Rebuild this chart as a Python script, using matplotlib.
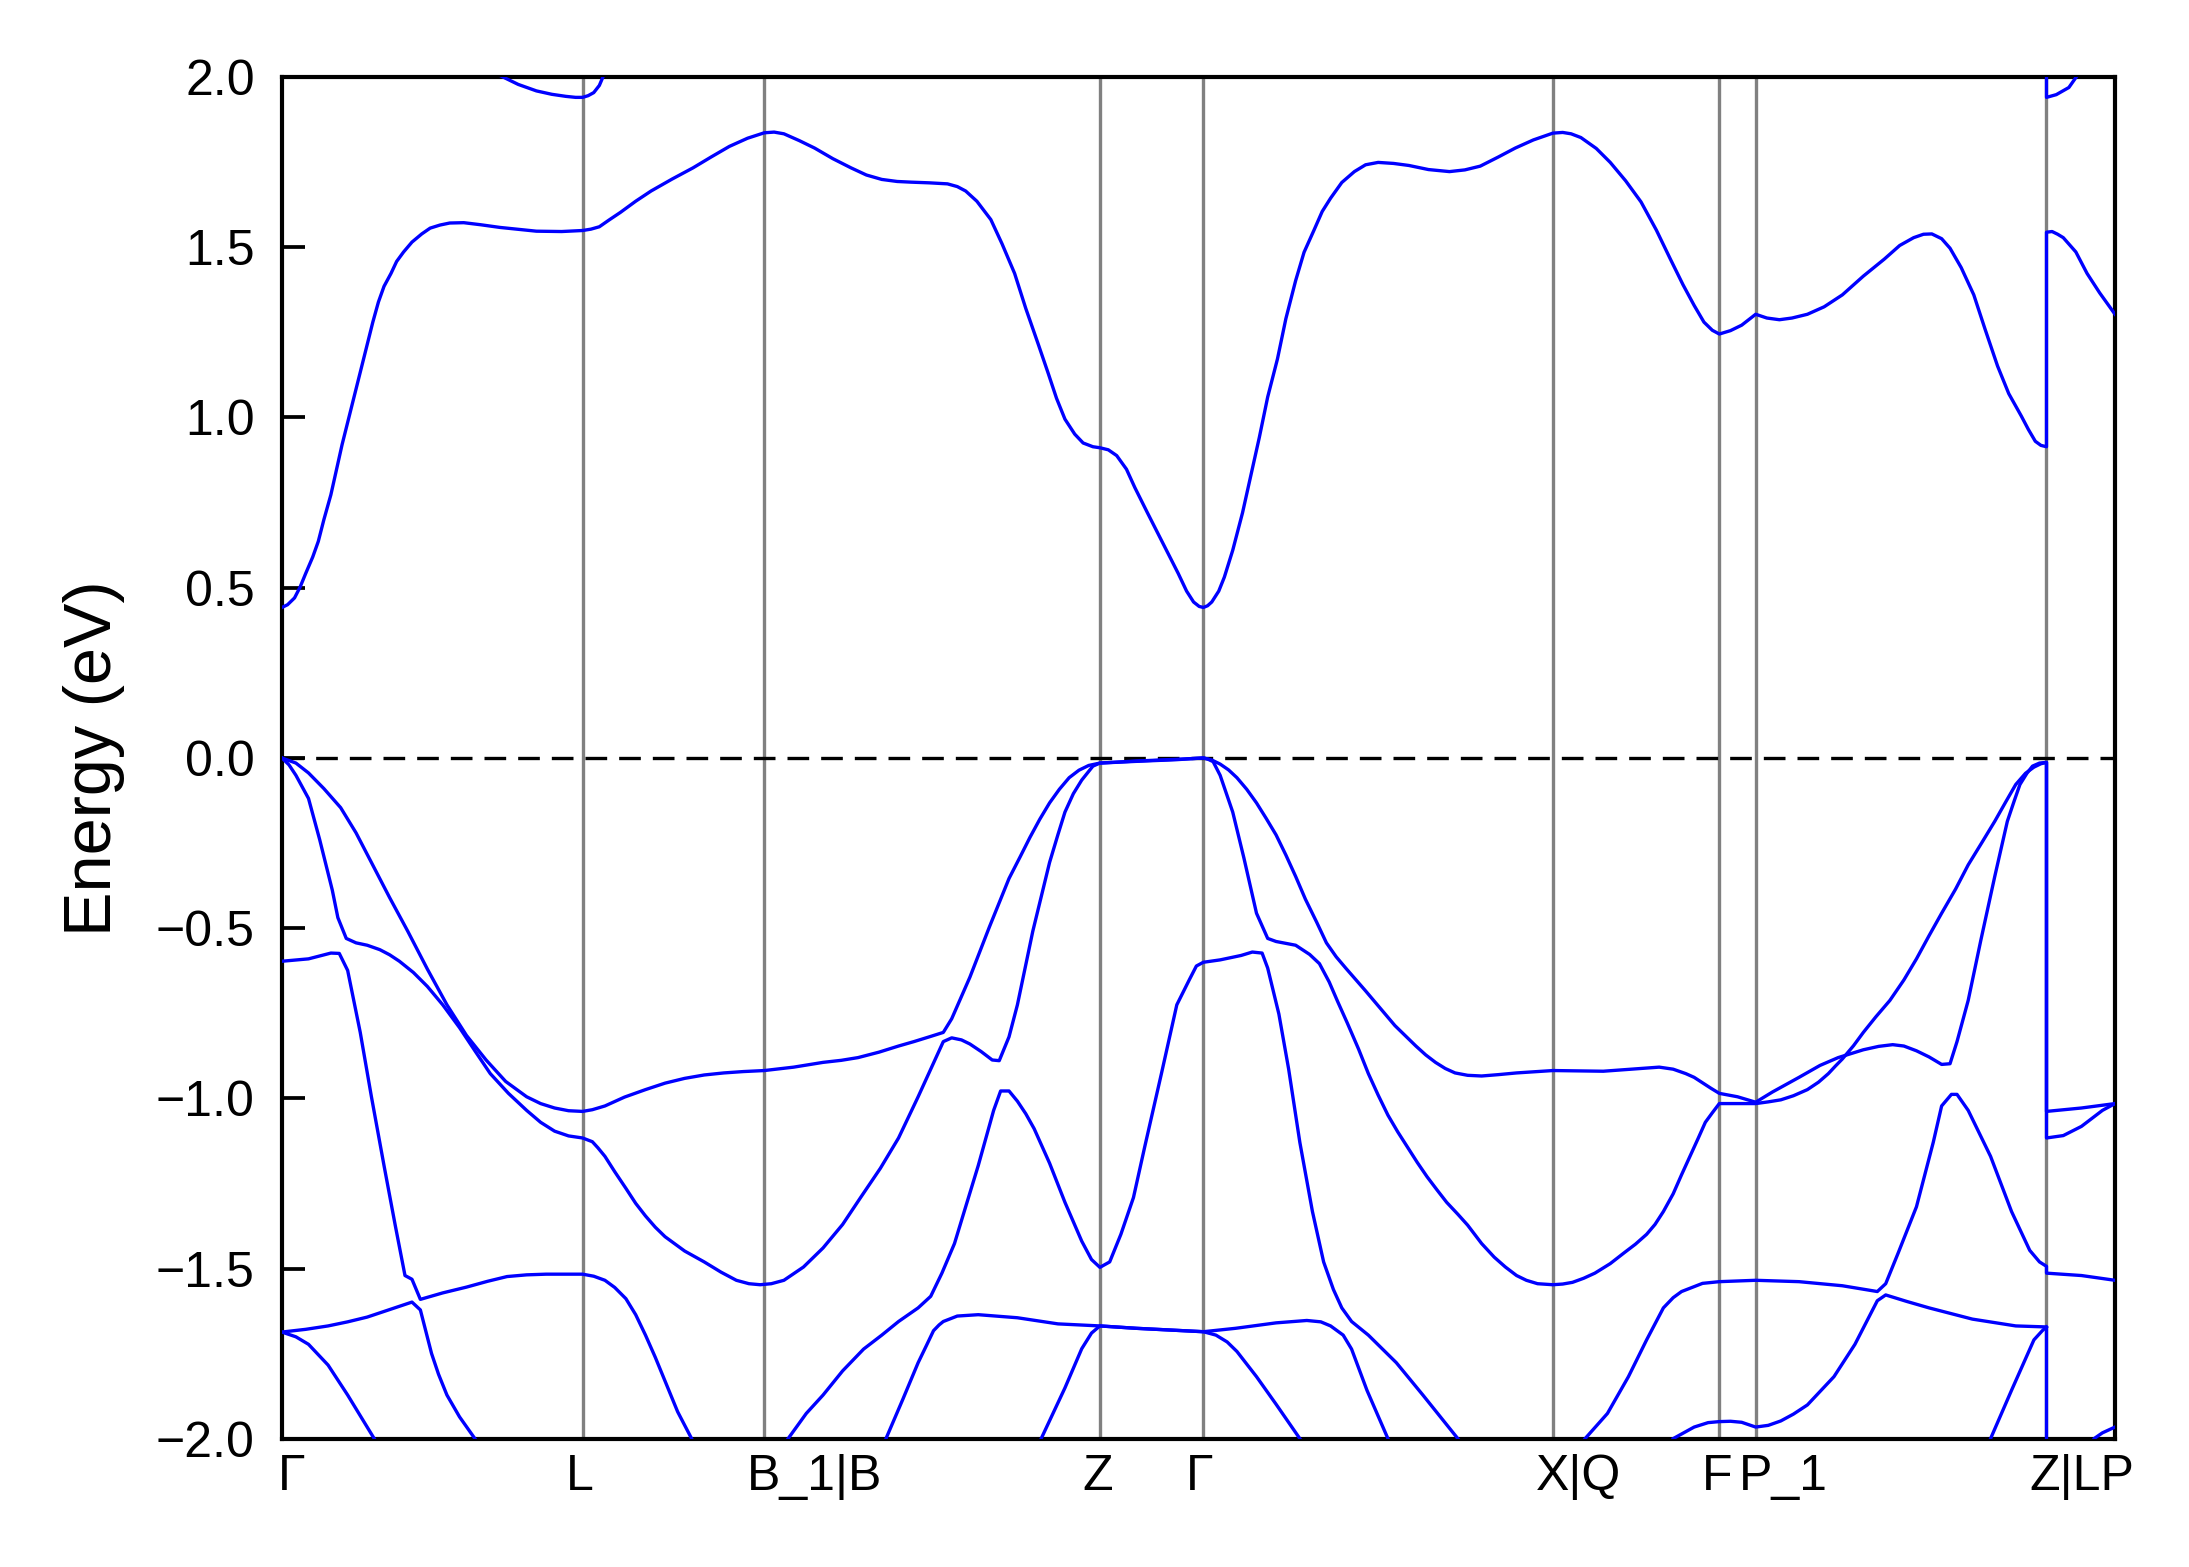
import matplotlib
matplotlib.use("Agg")
import matplotlib.pyplot as plt
import matplotlib.transforms as mtransforms
import numpy as np

plt.rcParams['font.family'] = ['Liberation Sans', 'DejaVu Sans']

# high symmetry points along the path (k distance)
kpoints = [0.0, 2.15, 3.45, 5.85, 6.59, 9.09, 10.28, 10.54, 12.62, 13.11]
klabels = ['Γ', 'L', 'B_1|B', 'Z', 'Γ', 'X|Q', 'F', 'P_1', 'Z|LP', '']

# bands: (k, E in eV)
cb1 = [(0.00, 0.442), (0.04, 0.450), (0.09, 0.470), (0.13, 0.502), (0.17, 0.542), (0.22, 0.590),
       (0.26, 0.636), (0.30, 0.700), (0.35, 0.773), (0.43, 0.920), (0.52, 1.067), (0.61, 1.214),
       (0.65, 1.280), (0.69, 1.339), (0.73, 1.385), (0.78, 1.423), (0.82, 1.458), (0.87, 1.486),
       (0.93, 1.515), (1.00, 1.539), (1.06, 1.556), (1.13, 1.565), (1.20, 1.571), (1.30, 1.572),
       (1.42, 1.566), (1.56, 1.558), (1.70, 1.552), (1.82, 1.547), (2.00, 1.546), (2.15, 1.549),
       (2.21, 1.553), (2.27, 1.560), (2.34, 1.580), (2.42, 1.602), (2.53, 1.635), (2.64, 1.665),
       (2.79, 1.700), (2.94, 1.733), (3.07, 1.765), (3.20, 1.796), (3.33, 1.820), (3.45, 1.836),
       (3.52, 1.838), (3.59, 1.833), (3.70, 1.813), (3.81, 1.791), (3.94, 1.760), (4.07, 1.733),
       (4.18, 1.712), (4.29, 1.699), (4.40, 1.693), (4.50, 1.691), (4.63, 1.689), (4.76, 1.686),
       (4.83, 1.678), (4.89, 1.665), (4.97, 1.635), (5.07, 1.581), (5.15, 1.510), (5.24, 1.423),
       (5.32, 1.320), (5.41, 1.214), (5.48, 1.130), (5.54, 1.056), (5.60, 0.995), (5.67, 0.951),
       (5.73, 0.925), (5.80, 0.914), (5.85, 0.911), (5.91, 0.905), (5.97, 0.888), (6.04, 0.848),
       (6.10, 0.794), (6.19, 0.720), (6.28, 0.647), (6.35, 0.590), (6.41, 0.542), (6.47, 0.490),
       (6.52, 0.458), (6.56, 0.445), (6.59, 0.442), (6.62, 0.447), (6.65, 0.458), (6.70, 0.490),
       (6.74, 0.531), (6.80, 0.610), (6.87, 0.720), (6.93, 0.830), (6.99, 0.941), (7.05, 1.060),
       (7.12, 1.172), (7.18, 1.290), (7.25, 1.402), (7.31, 1.485), (7.38, 1.549), (7.44, 1.605),
       (7.50, 1.644), (7.58, 1.690), (7.67, 1.722), (7.75, 1.742), (7.84, 1.749), (7.95, 1.746),
       (8.06, 1.740), (8.20, 1.728), (8.35, 1.722), (8.46, 1.727), (8.57, 1.738), (8.70, 1.765),
       (8.82, 1.791), (8.95, 1.815), (9.09, 1.835), (9.16, 1.837), (9.22, 1.833), (9.29, 1.822),
       (9.40, 1.790), (9.50, 1.749), (9.61, 1.695), (9.72, 1.633), (9.83, 1.550), (9.93, 1.465),
       (10.02, 1.390), (10.10, 1.329), (10.17, 1.280), (10.23, 1.256), (10.28, 1.245), (10.36, 1.255),
       (10.44, 1.271), (10.54, 1.303), (10.62, 1.292), (10.71, 1.287), (10.80, 1.292), (10.91, 1.303),
       (11.03, 1.325), (11.16, 1.360), (11.31, 1.415), (11.46, 1.465), (11.57, 1.505), (11.67, 1.528),
       (11.74, 1.538), (11.80, 1.539), (11.87, 1.525), (11.93, 1.497), (12.01, 1.440), (12.10, 1.360),
       (12.18, 1.260), (12.27, 1.151), (12.35, 1.070), (12.44, 1.004), (12.49, 0.965), (12.54, 0.930),
       (12.58, 0.918), (12.62, 0.914), (12.62, 1.544), (12.66, 1.546), (12.70, 1.538), (12.74, 1.528),
       (12.83, 1.486), (12.91, 1.423), (13.00, 1.366), (13.11, 1.303)]

cb2_left = [(1.40, 2.030), (1.48, 2.018), (1.56, 2.004), (1.69, 1.978), (1.82, 1.959), (1.93, 1.949),
            (2.03, 1.943), (2.10, 1.940), (2.15, 1.940), (2.19, 1.945), (2.23, 1.954), (2.27, 1.975),
            (2.30, 2.004), (2.36, 2.050)]
cb2_right = [(12.62, 2.100), (12.62, 1.940), (12.69, 1.948), (12.78, 1.969), (12.84, 2.004), (12.90, 2.050)]

vb1 = [(0.00, 0.000), (0.10, -0.015), (0.19, -0.044), (0.30, -0.090), (0.42, -0.146), (0.53, -0.220),
       (0.64, -0.307), (0.77, -0.410), (0.90, -0.509), (1.04, -0.620), (1.18, -0.725), (1.32, -0.815),
       (1.46, -0.887), (1.60, -0.950), (1.75, -0.995), (1.85, -1.015), (1.95, -1.028), (2.05, -1.036),
       (2.15, -1.038), (2.22, -1.033), (2.31, -1.022), (2.45, -0.996), (2.60, -0.974), (2.74, -0.955),
       (2.88, -0.941), (3.02, -0.931), (3.16, -0.925), (3.30, -0.921), (3.45, -0.918), (3.66, -0.908),
       (3.87, -0.894), (4.00, -0.888), (4.12, -0.880), (4.27, -0.864), (4.41, -0.846), (4.52, -0.833),
       (4.63, -0.819), (4.73, -0.806), (4.79, -0.766), (4.92, -0.644), (5.06, -0.496), (5.20, -0.354),
       (5.28, -0.290), (5.35, -0.233), (5.42, -0.180), (5.49, -0.132), (5.56, -0.092), (5.63, -0.058),
       (5.70, -0.036), (5.77, -0.022), (5.85, -0.015), (6.11, -0.009), (6.40, -0.004), (6.59, 0.000),
       (6.65, -0.006), (6.71, -0.018), (6.77, -0.035), (6.83, -0.058), (6.90, -0.092), (6.97, -0.132),
       (7.04, -0.178), (7.11, -0.226), (7.18, -0.285), (7.25, -0.348), (7.32, -0.415), (7.40, -0.482),
       (7.47, -0.543), (7.54, -0.584), (7.61, -0.618), (7.68, -0.651), (7.75, -0.684), (7.82, -0.718),
       (7.89, -0.752), (7.96, -0.786), (8.04, -0.818), (8.11, -0.846), (8.18, -0.872), (8.25, -0.894),
       (8.32, -0.912), (8.39, -0.925), (8.48, -0.932), (8.58, -0.934), (8.70, -0.930), (8.83, -0.925),
       (9.09, -0.918), (9.45, -0.920), (9.65, -0.914), (9.85, -0.908), (9.95, -0.914), (10.04, -0.927),
       (10.10, -0.938), (10.16, -0.954), (10.22, -0.970), (10.28, -0.985), (10.41, -0.995), (10.54, -1.011),
       (10.66, -0.981), (10.85, -0.938), (11.00, -0.903), (11.13, -0.880), (11.31, -0.857), (11.42, -0.847),
       (11.52, -0.842), (11.60, -0.846), (11.69, -0.860), (11.78, -0.878), (11.87, -0.900), (11.93, -0.898),
       (11.98, -0.833), (12.06, -0.712), (12.15, -0.536), (12.25, -0.348), (12.34, -0.186), (12.39, -0.125),
       (12.43, -0.078), (12.48, -0.045), (12.52, -0.024), (12.57, -0.015), (12.62, -0.013),
       (12.62, -1.038), (12.87, -1.028), (13.11, -1.015)]

vb2 = [(0.00, 0.000), (0.05, -0.020), (0.10, -0.051), (0.19, -0.119), (0.27, -0.240), (0.36, -0.388),
       (0.40, -0.469), (0.46, -0.530), (0.53, -0.543), (0.61, -0.550), (0.70, -0.563), (0.77, -0.578),
       (0.84, -0.597), (0.94, -0.630), (1.04, -0.671), (1.15, -0.725), (1.27, -0.792), (1.38, -0.860),
       (1.49, -0.927), (1.62, -0.985), (1.75, -1.035), (1.85, -1.070), (1.95, -1.096), (2.05, -1.110),
       (2.15, -1.116), (2.22, -1.127), (2.26, -1.145), (2.31, -1.170), (2.38, -1.215), (2.46, -1.264),
       (2.53, -1.308), (2.60, -1.345), (2.67, -1.378), (2.74, -1.406), (2.88, -1.448), (3.02, -1.480),
       (3.14, -1.510), (3.25, -1.534), (3.34, -1.544), (3.42, -1.547), (3.50, -1.544), (3.59, -1.534),
       (3.73, -1.495), (3.87, -1.439), (4.01, -1.370), (4.14, -1.290), (4.28, -1.205), (4.41, -1.116),
       (4.55, -0.995), (4.73, -0.833), (4.79, -0.822), (4.86, -0.828), (4.92, -0.840), (5.00, -0.862),
       (5.08, -0.887), (5.13, -0.889), (5.20, -0.819), (5.26, -0.725), (5.37, -0.509), (5.49, -0.307),
       (5.55, -0.225), (5.60, -0.159), (5.66, -0.105), (5.72, -0.065), (5.80, -0.024), (5.85, -0.015),
       (6.11, -0.010), (6.40, -0.005), (6.59, 0.000), (6.62, -0.003), (6.66, -0.011), (6.71, -0.051),
       (6.80, -0.159), (6.88, -0.294), (6.97, -0.456), (7.05, -0.530), (7.11, -0.539), (7.25, -0.550),
       (7.35, -0.577), (7.42, -0.604), (7.49, -0.658), (7.55, -0.715), (7.62, -0.779), (7.70, -0.855),
       (7.77, -0.927), (7.84, -0.990), (7.91, -1.049), (7.98, -1.098), (8.05, -1.143), (8.12, -1.188),
       (8.19, -1.230), (8.26, -1.268), (8.33, -1.305), (8.41, -1.340), (8.48, -1.372), (8.58, -1.426),
       (8.67, -1.466), (8.75, -1.495), (8.83, -1.520), (8.90, -1.534), (8.98, -1.544), (9.09, -1.547),
       (9.16, -1.545), (9.23, -1.540), (9.31, -1.528), (9.39, -1.513), (9.50, -1.485), (9.60, -1.453),
       (9.68, -1.428), (9.76, -1.399), (9.82, -1.370), (9.88, -1.332), (9.95, -1.280), (10.01, -1.224),
       (10.07, -1.170), (10.13, -1.116), (10.18, -1.070), (10.23, -1.042), (10.28, -1.015), (10.54, -1.015),
       (10.63, -1.010), (10.72, -1.004), (10.81, -0.992), (10.91, -0.974), (10.99, -0.952), (11.06, -0.927),
       (11.11, -0.905), (11.16, -0.884), (11.24, -0.845), (11.31, -0.806), (11.40, -0.760), (11.50, -0.712),
       (11.60, -0.652), (11.69, -0.590), (11.78, -0.522), (11.87, -0.456), (11.97, -0.385), (12.06, -0.314),
       (12.16, -0.247), (12.25, -0.186), (12.33, -0.128), (12.40, -0.078), (12.47, -0.045), (12.53, -0.027),
       (12.58, -0.017), (12.62, -0.013), (12.62, -1.116), (12.74, -1.109), (12.87, -1.082), (13.02, -1.035),
       (13.11, -1.015)]

vb3_a = [(0.00, -0.597), (0.19, -0.590), (0.35, -0.573), (0.41, -0.574), (0.47, -0.624), (0.56, -0.806),
         (0.64, -0.995), (0.73, -1.197), (0.81, -1.372), (0.88, -1.520), (0.93, -1.531), (0.99, -1.590),
         (1.15, -1.571), (1.32, -1.554), (1.47, -1.537), (1.61, -1.523), (1.75, -1.518), (1.89, -1.516),
         (2.15, -1.516), (2.23, -1.522), (2.31, -1.534), (2.38, -1.555), (2.46, -1.588), (2.53, -1.635),
         (2.60, -1.695), (2.67, -1.760), (2.74, -1.830), (2.83, -1.920), (2.93, -1.999)]

vb3_b = [(3.62, -1.999), (3.75, -1.925), (3.87, -1.871), (4.01, -1.800), (4.16, -1.736), (4.29, -1.695),
         (4.41, -1.655), (4.55, -1.615), (4.64, -1.581), (4.72, -1.513), (4.81, -1.426), (4.89, -1.318),
         (4.98, -1.197), (5.09, -1.035), (5.14, -0.978), (5.20, -0.978), (5.26, -1.008), (5.32, -1.045),
         (5.38, -1.089), (5.49, -1.190), (5.60, -1.305), (5.72, -1.419), (5.79, -1.473), (5.85, -1.496),
         (5.92, -1.480), (6.00, -1.399), (6.09, -1.291), (6.17, -1.143), (6.29, -0.927), (6.40, -0.725),
         (6.49, -0.651), (6.54, -0.611), (6.59, -0.600), (6.71, -0.593), (6.86, -0.580), (6.94, -0.570),
         (7.01, -0.573), (7.05, -0.617), (7.13, -0.752), (7.20, -0.914), (7.28, -1.129), (7.37, -1.332),
         (7.45, -1.480), (7.52, -1.561), (7.58, -1.615), (7.65, -1.655), (7.77, -1.695), (7.97, -1.776),
         (8.16, -1.871), (8.41, -1.999)]

vb4_a = [(0.00, -1.686), (0.17, -1.678), (0.33, -1.668), (0.47, -1.656), (0.61, -1.642), (0.77, -1.620),
         (0.93, -1.598), (0.99, -1.621), (1.07, -1.749), (1.12, -1.810), (1.18, -1.871), (1.27, -1.935),
         (1.38, -1.999)]

vb4_b = [(4.32, -1.999), (4.44, -1.884), (4.55, -1.776), (4.61, -1.725), (4.66, -1.682), (4.70, -1.665),
         (4.73, -1.655), (4.83, -1.639), (4.98, -1.635), (5.26, -1.644), (5.55, -1.662), (5.85, -1.668),
         (6.11, -1.675), (6.59, -1.685), (6.82, -1.675), (7.11, -1.659), (7.33, -1.652), (7.43, -1.656),
         (7.50, -1.668), (7.59, -1.695), (7.65, -1.736), (7.76, -1.857), (7.91, -1.999)]

vb5_a = [(0.00, -1.686), (0.10, -1.700), (0.19, -1.722), (0.33, -1.783), (0.47, -1.871), (0.66, -1.999)]

vb5_b = [(5.43, -1.999), (5.60, -1.850), (5.72, -1.735), (5.79, -1.689), (5.85, -1.668), (6.11, -1.675),
         (6.59, -1.685), (6.68, -1.695), (6.76, -1.715), (6.83, -1.743), (6.97, -1.817), (7.11, -1.898),
         (7.28, -1.999)]

vb6 = [(9.32, -1.999), (9.48, -1.925), (9.63, -1.817), (9.76, -1.709), (9.88, -1.615), (9.95, -1.585),
       (10.01, -1.567), (10.16, -1.543), (10.28, -1.538), (10.54, -1.534), (10.85, -1.538), (11.16, -1.550),
       (11.41, -1.567), (11.47, -1.544), (11.56, -1.453), (11.69, -1.318), (11.81, -1.129), (11.87, -1.022),
       (11.94, -0.988), (11.98, -0.988), (12.06, -1.035), (12.22, -1.170), (12.37, -1.332), (12.50, -1.446),
       (12.57, -1.480), (12.62, -1.493), (12.62, -1.513), (12.87, -1.520), (13.11, -1.534)]

vb7 = [(9.95, -1.999), (10.10, -1.965), (10.20, -1.952), (10.28, -1.949), (10.36, -1.948), (10.44, -1.951),
       (10.54, -1.965), (10.63, -1.960), (10.72, -1.947), (10.81, -1.927), (10.91, -1.900), (11.10, -1.817),
       (11.25, -1.722), (11.41, -1.594), (11.47, -1.577), (11.62, -1.596), (11.78, -1.615), (12.09, -1.648),
       (12.40, -1.668), (12.62, -1.671), (12.62, -2.250), (12.96, -1.999), (13.02, -1.982), (13.11, -1.965)]

vb8 = [(12.22, -1.999), (12.37, -1.857), (12.53, -1.709), (12.59, -1.682), (12.62, -1.671)]

bands = [cb1, cb2_left, cb2_right, vb1, vb2, vb3_a, vb3_b, vb4_a, vb4_b, vb5_a, vb5_b, vb6, vb7, vb8]

fig = plt.figure(figsize=(2189 / 300, 1567 / 300), dpi=300)
ax = fig.add_axes([0.1288, 0.0817, 0.8374, 0.8692])

for k in kpoints[1:-1]:
    ax.axvline(k, color='grey', lw=0.8, zorder=1)

for band in bands:
    k, e = zip(*band)
    ax.plot(k, e, color='blue', lw=0.8, zorder=3)

ax.axhline(0, color='k', lw=0.8, ls=(0, (6.5, 3.6)), zorder=2)

ax.set_xlim(kpoints[0], kpoints[-1])
ax.set_ylim(-2, 2)
ax.set_yticks(np.arange(-2, 2.01, 0.5))
ax.set_xticks(kpoints)
ax.set_xticklabels(klabels)
ax.set_ylabel('Energy (eV)', fontsize=16, labelpad=7.5)

ax.tick_params(axis='y', direction='in', length=5.5, width=0.9, labelsize=12, pad=6.5, right=False)
ax.tick_params(axis='x', length=0, labelsize=12, pad=3.5)
for s in ax.spines.values():
    s.set_linewidth(1.0)

# labels sit left-aligned just before each line
for i, lab in enumerate(ax.get_xticklabels()):
    shift = -1.0 if i == 0 else -4.1
    lab.set_horizontalalignment('left')
    lab.set_transform(lab.get_transform() + mtransforms.ScaledTranslation(shift / 72, 0, fig.dpi_scale_trans))

fig.savefig('out.png', dpi=300)
